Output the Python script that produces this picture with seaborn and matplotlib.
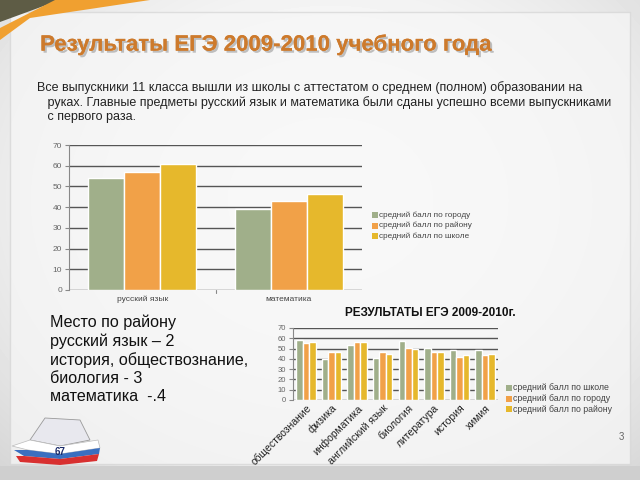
import numpy as np
import pandas as pd
import matplotlib
matplotlib.use("Agg")
import matplotlib.pyplot as plt
import matplotlib.patheffects as pe
from matplotlib.patches import Polygon, Rectangle
import seaborn as sns

# ---- data ----
top_subjects = ["русский язык", "математика"]
top_series = ["средний балл по городу", "средний балл по району", "средний балл по школе"]
top_city = [54, 39]
top_district = [57, 43]
top_school = [61, 46.5]

bot_subjects = ["обществознание", "физика", "информатика", "английский язык",
                "биология", "литература", "история", "химия"]
bot_series = ["средний балл по школе", "средний балл по городу", "средний балл по району"]
bot_school = [58, 40, 53, 41, 57, 51, 49, 49]
bot_city = [55, 47, 56, 47, 51, 47, 42, 44]
bot_district = [56, 47, 56, 45, 50, 47, 44, 45]

y_ticks = [0, 10, 20, 30, 40, 50, 60, 70]

title = "Результаты ЕГЭ 2009-2010 учебного года"
body = ("Все выпускники 11 класса вышли из школы с аттестатом о среднем (полном) образовании на\n"
        "   руках. Главные предметы русский язык и математика были сданы успешно всеми выпускниками\n"
        "   с первого раза.")
side_text = ("Место по району\nрусский язык – 2\nистория, обществознание,\n"
             "биология - 3\nматематика  -.4")
bot_title = "РЕЗУЛЬТАТЫ ЕГЭ 2009-2010г."

GREEN, ORANGE, YELLOW = "#A0AF8A", "#F1A148", "#E6B82C"

sns.set_theme(style="white")
plt.rcParams['font.family'] = ['Liberation Sans', 'DejaVu Sans']

W, H = 640, 480
fig = plt.figure(figsize=(6.4, 4.8), dpi=100)

def ax_px(x, y, w, h):
    return fig.add_axes([x / W, 1 - (y + h) / H, w / W, h / H])

# ---- slide background ----
bg = fig.add_axes([0, 0, 1, 1], zorder=-10)
bg.set_xlim(0, W); bg.set_ylim(H, 0); bg.axis("off")
yy, xx = np.mgrid[0:H, 0:W]
grad = 0.80 + 0.2 * np.clip(1 - ((xx - 330) / 520) ** 2 - ((yy - 200) / 420) ** 2, 0, 1)
bg.imshow(grad, cmap="gray", vmin=0, vmax=1, extent=(0, W, H, 0), aspect="auto")
bg.add_patch(Rectangle((10, 12), 620, 452, facecolor="#f6f6f6", edgecolor="#d6d6d6", lw=1, alpha=0.75))
bg.add_patch(Rectangle((0, 466), W, 14, facecolor="#cfcfcf", edgecolor="none"))
bg.add_patch(Polygon([(0, 0), (60, 0), (0, 22)], closed=True, facecolor="#5e5c45", edgecolor="none"))
bg.add_patch(Polygon([(55, 0), (150, 0), (30, 18), (0, 40), (0, 28)], closed=True,
                     facecolor="#F0A030", edgecolor="none"))
# simple logo hint
bg.add_patch(Polygon([(30, 440), (45, 418), (80, 420), (90, 440), (60, 446)], closed=True,
                     facecolor="#e8e8ee", edgecolor="#999999", lw=0.6))
bg.add_patch(Polygon([(12, 446), (30, 440), (60, 446), (98, 440), (100, 448), (60, 454), (28, 450)],
                     closed=True, facecolor="#ffffff", edgecolor="#bbbbbb", lw=0.5))
bg.add_patch(Polygon([(14, 450), (28, 450), (60, 454), (100, 448), (99, 454), (60, 459), (24, 456)],
                     closed=True, facecolor="#3a6fc0", edgecolor="none"))
bg.add_patch(Polygon([(16, 456), (24, 456), (60, 459), (99, 454), (97, 461), (60, 465), (20, 462)],
                     closed=True, facecolor="#d83030", edgecolor="none"))
bg.text(60, 452, "67", fontsize=7, color="#1a2a6a", ha="center", va="center", fontweight="bold")

# title with shadow
bg.text(40, 45, title, fontsize=16.0, fontweight="bold", color="#CD7A2C", va="center", ha="left",
        path_effects=[pe.withSimplePatchShadow(offset=(1.5, -1.5), shadow_rgbFace="#999999", alpha=0.6),
                      pe.Normal()])
bg.text(37, 102, body, fontsize=9.0, color="#222222", va="center", ha="left", linespacing=1.22)
bg.text(50, 359, side_text, fontsize=11.6, color="#111111", va="center", ha="left", linespacing=1.25)
bg.text(430, 313, bot_title, fontsize=8.5, fontweight="bold", color="#111111", va="center", ha="center")
bg.text(621, 437, "3", fontsize=7, color="#666666", va="center", ha="center")

def style_axes(ax, tick_fs):
    ax.set_ylim(0, 70)
    ax.set_yticks(y_ticks)
    ax.set_yticklabels([str(t) for t in y_ticks], fontsize=tick_fs, color="#666666")
    ax.set_facecolor("none")
    for s in ["top", "right", "bottom"]:
        ax.spines[s].set_visible(False)
    ax.spines["left"].set_color("#888888")
    ax.spines["left"].set_linewidth(0.8)
    ax.yaxis.grid(True, color="#555555", lw=1.0)
    ax.set_axisbelow(True)
    ax.tick_params(axis="y", length=3, width=0.8, color="#888888", pad=2, left=True)
    ax.tick_params(axis="x", length=0, pad=2)
    ax.set_xlabel(""); ax.set_ylabel("")

# ---- top chart ----
df_top = pd.DataFrame({
    "subject": top_subjects * 3,
    "series": [top_series[0]] * 2 + [top_series[1]] * 2 + [top_series[2]] * 2,
    "value": top_city + top_district + top_school,
})
ax1 = ax_px(69, 145, 293, 145)
sns.barplot(data=df_top, x="subject", y="value", hue="series", hue_order=top_series,
            palette=[GREEN, ORANGE, YELLOW], width=0.74, saturation=1, ax=ax1, legend=False)
style_axes(ax1, 6)
ax1.set_xticks([0, 1])
ax1.set_xticklabels(top_subjects, fontsize=6, color="#444444")
ax1.tick_params(axis="x", pad=4)
ax1.axvline(0.5, ymin=-0.02, ymax=0, color="#888888", lw=0.8, clip_on=False)
for i, (lab, col) in enumerate(zip(top_series, [GREEN, ORANGE, YELLOW])):
    y = 215 + i * 10.5
    bg.add_patch(Rectangle((372, y - 3), 6, 6, facecolor=col, edgecolor="none"))
    bg.text(379, y, lab, fontsize=5.9, color="#444444", va="center", ha="left")

# ---- bottom chart ----
df_bot = pd.DataFrame({
    "subject": bot_subjects * 3,
    "series": [bot_series[0]] * 8 + [bot_series[1]] * 8 + [bot_series[2]] * 8,
    "value": bot_school + bot_city + bot_district,
})
ax2 = ax_px(293, 328, 205, 72)
sns.barplot(data=df_bot, x="subject", y="value", hue="series", hue_order=bot_series,
            palette=[GREEN, ORANGE, YELLOW], width=0.76, saturation=1, ax=ax2, legend=False)
style_axes(ax2, 5.5)
ax2.set_xticks(range(len(bot_subjects)))
ax2.set_xticklabels(bot_subjects, fontsize=7.5, color="#222222", rotation=45,
                    ha="right", rotation_mode="anchor")
for i, (lab, col) in enumerate(zip(bot_series, [GREEN, ORANGE, YELLOW])):
    y = 388 + i * 10.5
    bg.add_patch(Rectangle((506, y - 3), 6, 6, facecolor=col, edgecolor="none"))
    bg.text(513, y, lab, fontsize=6.3, color="#444444", va="center", ha="left")

fig.savefig("out.png", dpi=100)
